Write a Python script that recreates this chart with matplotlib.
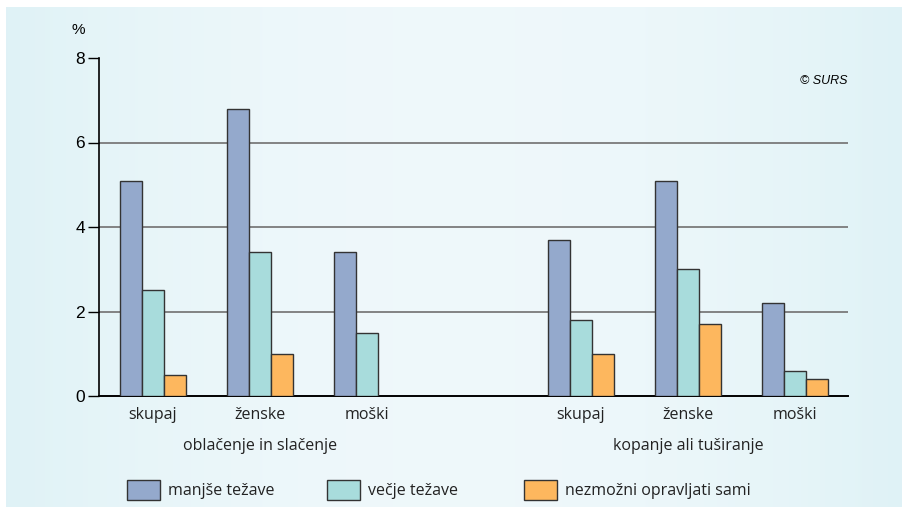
import numpy as np
import matplotlib
matplotlib.use('Agg')
import matplotlib.pyplot as plt
from matplotlib.patches import Rectangle

# data
activities = ['oblačenje in slačenje', 'kopanje ali tuširanje']
groups = ['skupaj', 'ženske', 'moški']
series = ['manjše težave', 'večje težave', 'nezmožni opravljati sami']
colors = ['#94a9cc', '#a8dcdc', '#fdb75e']

manjse = [5.1, 6.8, 3.4, 3.7, 5.1, 2.2]
vecje = [2.5, 3.4, 1.5, 1.8, 3.0, 0.6]
nezmozni = [0.5, 1.0, np.nan, 1.0, 1.7, 0.4]
values = [manjse, vecje, nezmozni]

W, H = 902, 507
fig = plt.figure(figsize=(W / 100, H / 100), dpi=100)
fig.patch.set_facecolor('white')

# light cyan background panel with soft gradient
bg = fig.add_axes([6 / W, 0, 1 - 6 / W, 1 - 7 / H])
t = np.linspace(0, 1, 300)
prof = 1 - (2 * t - 1) ** 2
c0 = np.array([0.875, 0.949, 0.965])
c1 = np.array([0.937, 0.973, 0.984])
grad = c0[None, :] + (c1 - c0)[None, :] * prof[:, None]
bg.imshow(grad[None, :, :], aspect='auto', extent=[0, 1, 0, 1])
bg.set_axis_off()
bg.set_zorder(-10)

ax = fig.add_axes([99 / W, (H - 396) / H, (848 - 99) / W, (396 - 58) / H])
ax.set_facecolor('none')

pos = np.array([0, 1, 2, 4, 5, 6])
bw = 0.2056
for i, (vals, col) in enumerate(zip(values, colors)):
    ax.bar(pos + (i - 1) * bw, vals, width=bw, color=col,
           edgecolor='#333333', linewidth=1.0, zorder=3)

ax.set_xlim(-0.505, 6.495)
ax.set_ylim(0, 8)
ax.set_yticks([0, 2, 4, 6, 8])
ax.set_yticklabels(['0', '2', '4', '6', '8'], fontsize=12.5, family='Liberation Sans')
for y in [2, 4, 6]:
    ax.axhline(y, color='#7a7a7a', linewidth=1.3, zorder=1)

ax.set_xticks(pos)
ax.set_xticklabels(groups * 2, fontsize=11.5, family='Open Sans', color='#222222')
ax.tick_params(axis='x', length=0, pad=8)
ax.tick_params(axis='y', length=8, width=1.0, pad=2, direction='out')

for s in ['top', 'right']:
    ax.spines[s].set_visible(False)
ax.spines['left'].set_linewidth(1.2)
ax.spines['bottom'].set_linewidth(1.4)

# activity labels under the middle group
for k, name in enumerate(activities):
    ax.text(pos[3 * k + 1], -1.19, name, ha='center', va='center',
            fontsize=11.5, family='Open Sans', color='#222222',
            transform=ax.transData)

fig.text(78 / W, 1 - 30 / H, '%', ha='center', va='center', fontsize=11,
         family='Liberation Sans')
fig.text(848 / W, 1 - 81 / H, '© SURS', ha='right', va='center', fontsize=9,
         style='italic', family='Liberation Sans')

# legend drawn by hand
leg_x = [127, 327, 524]
for x0, name, col in zip(leg_x, series, colors):
    fig.patches.append(Rectangle((x0 / W, 1 - 500 / H), 33 / W, 20 / H,
                                 transform=fig.transFigure, facecolor=col,
                                 edgecolor='#333333', linewidth=1.0))
    fig.text((x0 + 41) / W, 1 - 491 / H, name, ha='left', va='center',
             fontsize=11.5, family='Open Sans', color='#222222')

fig.savefig('out.png', dpi=100)
